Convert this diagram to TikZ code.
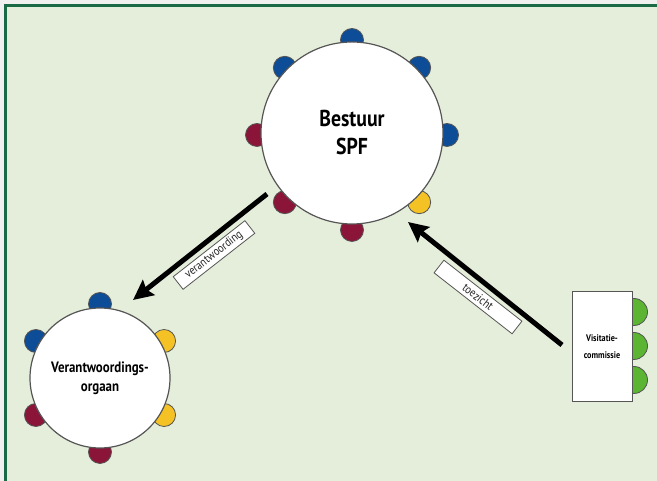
\documentclass[tikz,border=0pt]{standalone}
\usepackage{fontspec}
\setmainfont{PT Sans}
\newfontfamily\condfont[FakeStretch=0.86]{PT Sans}
\usetikzlibrary{arrows.meta,calc}
\definecolor{bggreen}{HTML}{E5EEDA}
\definecolor{framegreen}{HTML}{1A6B45}
\definecolor{chairblue}{HTML}{0D4C96}
\definecolor{chairred}{HTML}{8A1538}
\definecolor{chairyellow}{HTML}{F4C224}
\definecolor{chairgreen}{HTML}{5BB432}
\definecolor{edgegray}{HTML}{555555}
\tikzset{
  chair/.style={circle, draw=edgegray, line width=0.8pt, minimum size=23pt, inner sep=0pt},
  tablebig/.style={circle, draw=edgegray, fill=white, line width=1.2pt, minimum size=182pt, inner sep=0pt, align=center},
  tablesmall/.style={circle, draw=edgegray, fill=white, line width=1.2pt, minimum size=140pt, inner sep=0pt, align=center},
  commbox/.style={rectangle, draw=edgegray, fill=white, line width=1pt, minimum width=60pt, minimum height=110pt, inner sep=0pt, align=center},
  labelbox/.style={rectangle, draw=edgegray, fill=white, line width=0.8pt, minimum height=16pt, inner sep=1.5pt, font=\condfont\fontsize{12}{12}\selectfont, text=black!85},
  bigarrow/.style={line width=5pt, -{Stealth[length=20pt,width=19pt,inset=3pt]}},
}
\begin{document}
\begin{tikzpicture}[x=1pt,y=1pt]
\useasboundingbox (0,0) rectangle (657,481);
\begin{scope}
\clip (0,0) rectangle (657,481);
\fill[gray!12] (0,0) rectangle (657,481);
\draw[framegreen, line width=3pt, fill=bggreen] (5.5,-20) rectangle (690,475.5);
\end{scope}
% big table chairs
\foreach \a/\c/\n in {90/chairblue/b1, 45/chairblue/b2, 135/chairblue/b3, 0/chairblue/b4, 180/chairred/b5, 225/chairred/b6, 270/chairred/b7, 315/chairyellow/b8}
  \node[chair, fill=\c] (\n) at ($(352,346)+(\a:95)$) {};
% small table chairs
\foreach \a/\c/\n in {90/chairblue/s1, 150/chairblue/s2, 30/chairyellow/s3, 210/chairred/s4, 330/chairyellow/s5, 270/chairred/s6}
  \node[chair, fill=\c] (\n) at ($(100,103)+(\a:74)$) {};
% commission chairs
\foreach \y/\n in {169/g1, 135/g2, 101/g3}
  \node[chair, fill=chairgreen, minimum size=27pt] (\n) at (634,\y) {};
% tables
\node[tablebig, font=\condfont\bfseries\fontsize{23}{28}\selectfont] (bestuur) at (352,348) {Bestuur\\SPF};
\node[tablesmall, font=\condfont\bfseries\fontsize{15}{19}\selectfont] (vo) at (100,103) {Verantwoordings-\\orgaan};
\node[commbox, font=\condfont\bfseries\fontsize{9.5}{17}\selectfont] (visit) at (602,134) {Visitatie-\\commissie};
% arrows
\coordinate (a1s) at (267,287);
\coordinate (a1e) at (133,181);
\coordinate (a2s) at (562,136);
\coordinate (a2e) at (408,259);
\draw[bigarrow] (a1s) -- (a1e);
\draw[bigarrow] (a2s) -- (a2e);
% labels
\node[labelbox, rotate=38, minimum width=91pt] (lv) at (214,226) {verantwoording};
\node[labelbox, rotate=-38, minimum width=99pt] (lt) at (478,184) {toezicht};
\end{tikzpicture}
\end{document}
